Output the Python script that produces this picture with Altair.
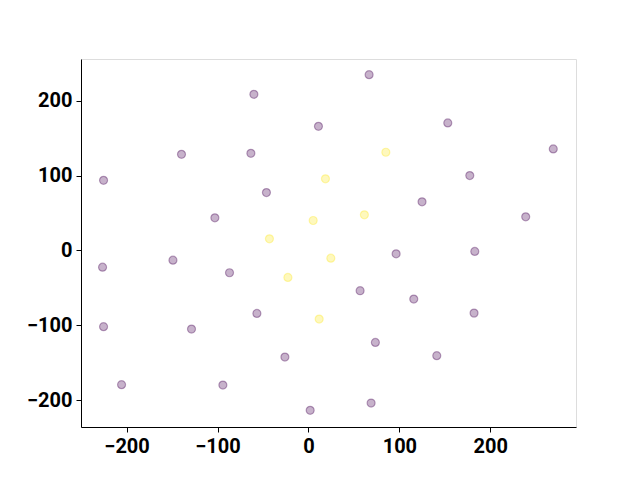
import altair as alt
import pandas as pd

purple_x = [66.7, -60, 11, 153.2, 269.2, -139.6, -63.3, -225.3, 177.4, -46.2, -102.9, 124.9, 238.9,
            -226.4, -149, -86.8, 96.4, 182.9, -225.3, -128.6, -56.7, 56.8, 115.8, 182.1, 73.6,
            -25.9, 141.1, -205.5, -94.1, 1.9, 68.9]
purple_y = [234.7, 208.4, 165.7, 170.3, 135.6, 128.4, 129.7, 93.7, 100, 77.3, 43.6, 64.9, 44.9,
            -22.3, -12.9, -29.7, -4.4, -1.3, -101.7, -104.9, -84, -53.7, -64.9, -83.6, -122.7,
            -142.3, -140.4, -179.1, -179.6, -213.3, -203.6]
yellow_x = [85.1, 18.7, 61.5, 5.2, -42.9, 24.6, -22.6, 11.8]
yellow_y = [131.1, 95.6, 47.6, 40, 15.6, -10.3, -36, -91.6]

df = pd.DataFrame({
    "x": purple_x + yellow_x,
    "y": purple_y + yellow_y,
    "c": ["0"] * len(purple_x) + ["1"] * len(yellow_x),
})

ticks = [-200, -100, 0, 100, 200]
axis_common = dict(
    grid=False, domainColor="black", tickColor="black", tickSize=5, tickWidth=1,
    labelFont="Roboto", labelFontWeight="bold", labelFontSize=20, labelColor="black",
    labelPadding=4, title=None, values=ticks, domainWidth=1,
)

cscale = alt.Scale(domain=["0", "1"], range=["#440154", "#fde725"])

chart = alt.Chart(df).mark_circle(
    size=64, fillOpacity=0.3, strokeWidth=1.2, strokeOpacity=0.35
).encode(
    x=alt.X("x:Q", scale=alt.Scale(domain=[-250.1, 294.2], nice=False, zero=False),
            axis=alt.Axis(**axis_common)),
    y=alt.Y("y:Q", scale=alt.Scale(domain=[-235.6, 255.6], nice=False, zero=False),
            axis=alt.Axis(**axis_common)),
    color=alt.Color("c:N", scale=cscale, legend=None),
    stroke=alt.Stroke("c:N", scale=cscale, legend=None),
).properties(
    width=495, height=368,
    autosize=alt.AutoSizeParams(type="none"),
    padding={"left": 73, "top": 51, "right": 50, "bottom": 50},
).configure_view(
    stroke="black", strokeWidth=1
).configure(background="white")

chart.save("out.html", embed_options={"renderer": "svg", "actions": False})
